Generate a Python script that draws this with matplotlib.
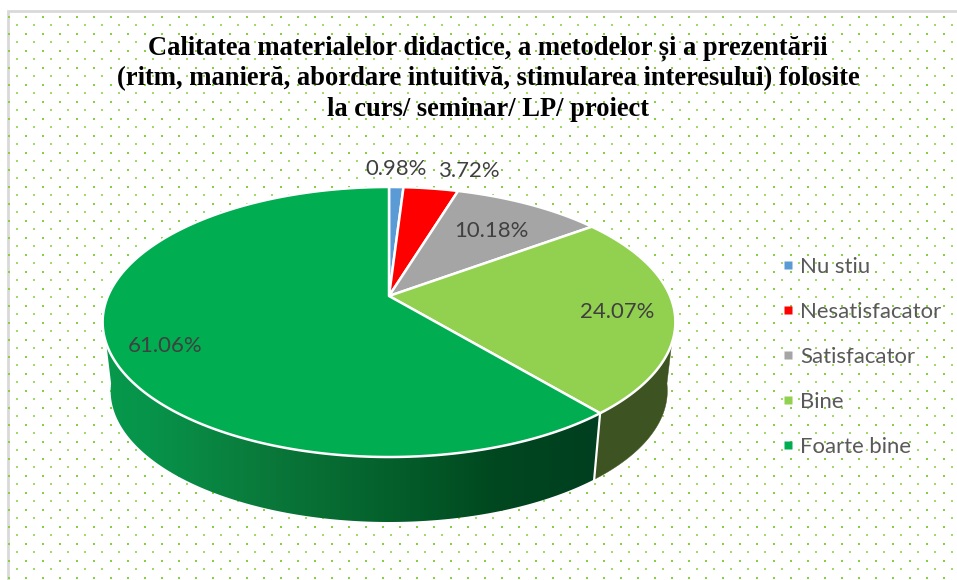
import numpy as np
import matplotlib
matplotlib.use("Agg")
import matplotlib.pyplot as plt
from matplotlib.patches import Polygon
from matplotlib.lines import Line2D
from matplotlib.colors import LinearSegmentedColormap

categories = ["Nu stiu", "Nesatisfacator", "Satisfacator", "Bine", "Foarte bine"]
values = [0.98, 3.72, 10.18, 24.07, 61.06]
value_labels = ["0.98%", "3.72%", "10.18%", "24.07%", "61.06%"]
colors = ["#5B9BD5", "#FF0000", "#A5A5A5", "#92D050", "#00AD50"]
title_lines = [
    "Calitatea materialelor didactice, a metodelor și a prezentării",
    "(ritm, manieră, abordare intuitivă, stimularea interesului) folosite",
    "la curs/ seminar/ LP/ proiect",
]

W, H = 957, 580
fig = plt.figure(figsize=(W / 100, H / 100), dpi=100, facecolor="white")
ax = fig.add_axes([0, 0, 1, 1])
ax.axis("off")

# Frame
ax.plot([8, 8, W], [H, 11, 11], color="#D9D9D9", lw=2.0, solid_joinstyle="miter", zorder=1)

# Dotted pattern background
for n in range(0, 67):
    y = 16.7 + 8.5 * n
    if y > H:
        break
    x0 = 9.0 if n % 2 == 0 else 17.4
    xs = np.arange(x0, W + 1, 17.0)
    ax.scatter(xs, np.full_like(xs, y), marker="s", s=3.6 if n % 2 == 0 else 4.6, lw=0,
               color="#86D044" if n % 2 == 0 else "#A0DA68", zorder=1)

# Perspective disc: the pie is a circle seen under a homography
CX, CY = 389.0, 296.0
A, B, K = 281.0, 130.0, 0.1926
SCALE, APEX_LOW = 0.972, 365.5


def project(theta, scale=1.0, cy=CY):
    X, Y = np.sin(theta), np.cos(theta)
    d = 1 + K * Y
    return CX + scale * A * X / d, cy - scale * B * Y / d


def wall_outline(t0_top, t1_top, t0_low, t1_low):
    xt, yt = project(np.linspace(t0_top, t1_top, 150))
    xb, yb = project(np.linspace(t0_low, t1_low, 150), SCALE, APEX_LOW)
    return np.column_stack([np.r_[xt, xb[::-1]], np.r_[yt, yb[::-1]]])


fractions = np.array(values) / np.sum(values)
edges = 2 * np.pi * np.concatenate([[0], np.cumsum(fractions)])

# Side wall, drawn first; the top surface covers its inner part
wall_cmap = LinearSegmentedColormap.from_list(
    "wall",
    [(0.0, "#069A4C"), (0.10, "#07934A"), (0.32, "#0A7A3B"), (0.55, "#05632D"),
     (0.80, "#00471F"), (1.0, "#003F20")],
)
wall = Polygon(wall_outline(edges[4], np.deg2rad(250), edges[4], np.deg2rad(262)), closed=True,
               fc="none", ec="none", transform=ax.transData)
ax.add_patch(wall)
grad = np.linspace(0, 1, 512)[None, :]
img = ax.imshow(grad, cmap=wall_cmap, extent=(100, 600, 530, 330), aspect="auto", zorder=2,
                interpolation="bilinear")
img.set_clip_path(wall)

ax.add_patch(Polygon(wall_outline(np.deg2rad(110), edges[4], np.deg2rad(98), edges[4]),
                     closed=True, fc="#3D5322", ec="#3D5322", lw=0.3, zorder=2))

# White divider between the two wall parts
xa, ya = project(edges[4])
xc, yc = project(edges[4], SCALE, APEX_LOW)
ax.plot([xa, xc], [ya, yc], color="white", lw=1.6, zorder=3)

# Top surface wedges
for i, col in enumerate(colors):
    t = np.linspace(edges[i], edges[i + 1], max(4, int(fractions[i] * 360)))
    x, y = project(t)
    ax.add_patch(Polygon(np.column_stack([np.r_[CX, x], np.r_[CY, y]]), closed=True,
                         fc=col, ec="white", lw=1.8, joinstyle="round", zorder=4))

# Data labels
label_pos = [(396, 169), (470, 171), (491, 231), (617, 312), (165, 346)]
for txt, (lx, ly) in zip(value_labels, label_pos):
    ax.text(lx, ly, txt, ha="center", va="center", fontsize=15.9, family="Lato",
            color="#404040", zorder=6)

# Title
for line, ty in zip(title_lines, [48, 79, 110]):
    ax.text(488, ty, line, ha="center", va="center", fontsize=19.1, family="Liberation Serif",
            fontweight="bold", color="#000000", zorder=6)

ax.set_xlim(0, W)
ax.set_ylim(H, 0)

# Legend
handles = [Line2D([], [], ls="none", marker="s", ms=6.2, mfc=c, mec="none") for c in colors]
leg = ax.legend(handles, categories, loc="center left", bbox_to_anchor=(777 / W, 1 - 357 / H),
                frameon=False, prop={"family": "Lato", "size": 15.9}, labelcolor="#595959",
                labelspacing=1.135, handlelength=1.0, handletextpad=0.05, borderpad=0, borderaxespad=0)
leg.set_zorder(6)

fig.savefig("out.png", dpi=100)
